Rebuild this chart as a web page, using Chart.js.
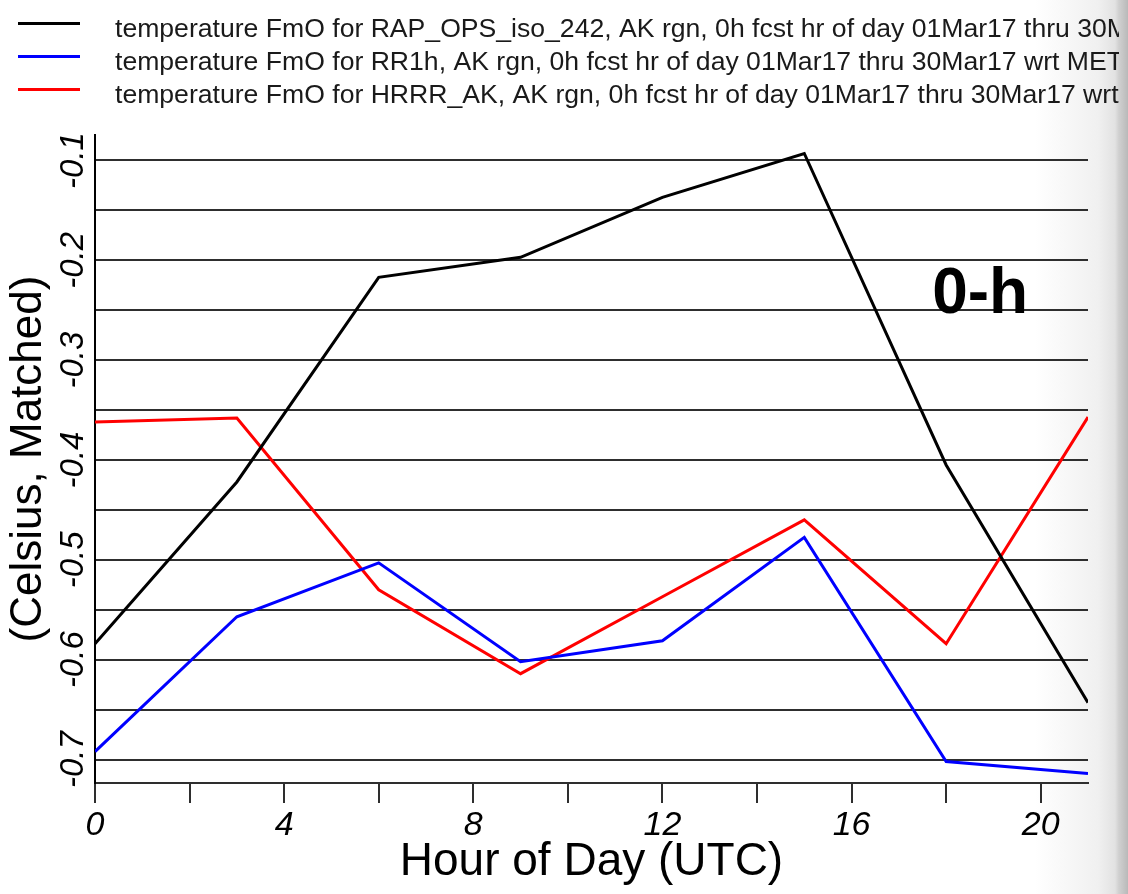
<!DOCTYPE html>
<html>
<head>
<meta charset="utf-8">
<script src="https://cdn.jsdelivr.net/npm/chart.js@4/dist/chart.umd.min.js"></script>
<style>
  html, body { margin: 0; padding: 0; }
  body {
    width: 1128px; height: 894px; overflow: hidden; position: relative;
    background: linear-gradient(to right, #ffffff 0px, #ffffff 1035px, #f0f0f0 1098px, #e2e2e2 1115px, #c6c6c6 1121px, #bdbdbd 1128px);
  }
  #wrap { position: absolute; left: 0; top: 0; width: 1128px; height: 894px; }
  #edge { position: absolute; left: 1119px; top: 0; width: 9px; height: 894px;
          background: linear-gradient(to right, #d0d0d0, #b9b9b9); }
</style>
</head>
<body>
<div id="wrap"><canvas id="c"></canvas></div>
<div id="edge"></div>
<script>
// ---- data ----
const hours = [0, 3, 6, 9, 12, 15, 18, 21];
const rapOps = [-0.584, -0.422, -0.217, -0.197, -0.137, -0.093, -0.405, -0.643];
const rr1h   = [-0.692, -0.557, -0.503, -0.602, -0.581, -0.4775, -0.702, -0.714];
const hrrrAk = [-0.362, -0.358, -0.530, -0.614, -0.537, -0.460, -0.584, -0.357];

const seriesLabels = [
  'temperature FmO for RAP_OPS_iso_242, AK rgn, 0h fcst hr of day 01Mar17 thru 30Mar17 wrt METAR',
  'temperature FmO for RR1h, AK rgn, 0h fcst hr of day 01Mar17 thru 30Mar17 wrt METAR',
  'temperature FmO for HRRR_AK, AK rgn, 0h fcst hr of day 01Mar17 thru 30Mar17 wrt METAR'
];
const seriesColors = ['#000000', '#0000ff', '#ff0000'];

const xTickValues = [0, 2, 4, 6, 8, 10, 12, 14, 16, 18, 20];
const xTickLabels = ['0', '', '4', '', '8', '', '12', '', '16', '', '20'];
const yTickValues = [-0.70, -0.65, -0.60, -0.55, -0.50, -0.45, -0.40, -0.35, -0.30, -0.25, -0.20, -0.15, -0.10];
const yTickLabels = ['-0.7', '', '-0.6', '', '-0.5', '', '-0.4', '', '-0.3', '', '-0.2', '', '-0.1'];
const yMin = -0.7235, yMax = -0.0745;
const xMin = 0, xMax = 21;

const annotationText = '0-h';
const annotationX = 18.72, annotationY = -0.2528;

const FONT = '"Liberation Sans", Arial, Helvetica, sans-serif';

// ---- custom legend (line + text rows at top-left) ----
const topLegend = {
  id: 'topLegend',
  afterDraw(chart) {
    const ctx = chart.ctx;
    ctx.save();
    chart.data.datasets.forEach((ds, i) => {
      const y = 23.5 + i * 33;
      ctx.strokeStyle = ds.borderColor;
      ctx.lineWidth = 3;
      ctx.beginPath();
      ctx.moveTo(18, y);
      ctx.lineTo(80, y);
      ctx.stroke();
      ctx.fillStyle = '#1a1a1a';
      ctx.font = '26.6px ' + FONT;
      ctx.textBaseline = 'alphabetic';
      ctx.textAlign = 'left';
      ctx.fillText(ds.label, 115, y + 13);
    });
    ctx.restore();
  }
};

// ---- in-plot annotation ----
const plotNote = {
  id: 'plotNote',
  afterDatasetsDraw(chart) {
    const ctx = chart.ctx;
    const px = chart.scales.x.getPixelForValue(annotationX);
    const py = chart.scales.y.getPixelForValue(annotationY);
    ctx.save();
    ctx.fillStyle = '#000';
    ctx.font = 'bold 64px ' + FONT;
    ctx.textAlign = 'center';
    ctx.textBaseline = 'alphabetic';
    ctx.fillText(annotationText, px, py);
    ctx.restore();
  }
};

const datasets = [rapOps, rr1h, hrrrAk].map((vals, i) => ({
  label: seriesLabels[i],
  data: hours.map((h, k) => ({ x: h, y: vals[k] })),
  borderColor: seriesColors[i],
  backgroundColor: seriesColors[i],
  borderWidth: 3,
  pointRadius: 0,
  pointHoverRadius: 0,
  tension: 0,
  fill: false
}));

new Chart(document.getElementById('c'), {
  type: 'line',
  data: { datasets },
  plugins: [topLegend, plotNote],
  options: {
    responsive: true,
    maintainAspectRatio: false,
    animation: false,
    events: [],
    layout: { padding: { top: 135, right: 40, bottom: 0, left: 0 } },
    plugins: {
      legend: { display: false },
      tooltip: { enabled: false },
      title: { display: false }
    },
    scales: {
      x: {
        type: 'linear',
        min: xMin, max: xMax,
        afterBuildTicks: s => { s.ticks = xTickValues.map(v => ({ value: v })); },
        afterFit: s => { s.height = 111; },
        border: { display: true, color: '#2e2e2e', width: 2 },
        grid: { drawOnChartArea: false, drawTicks: true, tickLength: 20, color: '#2e2e2e', lineWidth: 2 },
        ticks: {
          autoSkip: false, maxRotation: 0, minRotation: 0, padding: 2,
          color: '#000',
          font: { family: FONT, size: 34, style: 'italic' },
          callback: (v, i) => xTickLabels[i]
        },
        title: {
          display: true, text: 'Hour of Day (UTC)', color: '#000',
          font: { family: FONT, size: 46, lineHeight: 1.1 },
          padding: { top: 0, bottom: 6 }
        }
      },
      y: {
        type: 'linear',
        min: yMin, max: yMax,
        afterBuildTicks: s => { s.ticks = yTickValues.map(v => ({ value: v })); },
        afterFit: s => { s.width = 95; },
        border: { display: true, color: '#000', width: 2 },
        grid: { drawTicks: false, color: '#2e2e2e', lineWidth: 2 },
        ticks: {
          autoSkip: false, minRotation: 90, maxRotation: 90,
          crossAlign: 'center', padding: -7,
          color: '#000',
          font: { family: FONT, size: 33, style: 'italic' },
          callback: (v, i) => yTickLabels[i]
        },
        title: {
          display: true, text: '(Celsius, Matched)', color: '#000',
          font: { family: FONT, size: 44, lineHeight: 1.1 },
          padding: { top: 5, bottom: 0 }
        }
      }
    }
  }
});
</script>
</body>
</html>
